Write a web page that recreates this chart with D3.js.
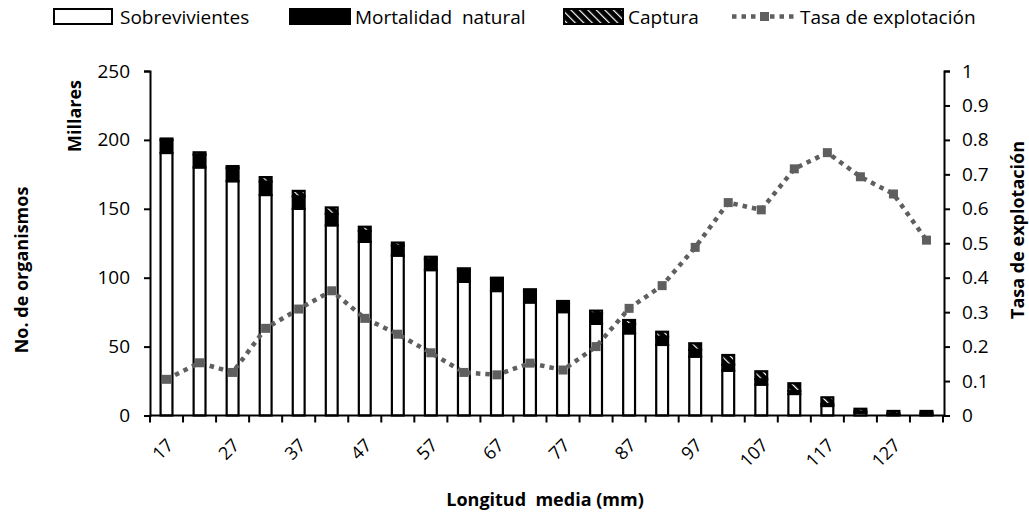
<!DOCTYPE html>
<html><head><meta charset="utf-8">
<script src="https://cdn.jsdelivr.net/npm/d3@7"></script>
<style>
body{margin:0;background:#fff;}
text{font-family:"Open Sans",sans-serif;fill:#000;}
</style></head>
<body><svg id="c" width="1029" height="517"></svg>
<script>
const categories = [17,22,27,32,37,42,47,52,57,62,67,72,77,82,87,92,97,102,107,112,117,122,127,132];
const tickLabels = ["17","27","37","47","57","67","77","87","97","107","117","127"];
const sobrevivientes = [190.5,180,170,160,150,138,126,116,105.5,97,90.3,82,75,66.5,59.6,51.2,42.7,32.5,22.4,15.6,6.9,2.0,0.5,0.3];
const mortalidad = [9.4,9.3,9.6,9.7,9.0,8.3,7.9,7.3,7.9,8.6,8.6,8.1,7.0,7.7,6.7,6.0,5.0,4.4,3.9,2.2,1.5,0.9,1.0,1.5];
const captura = [1.1,1.7,1.4,3.3,4.0,4.7,3.1,2.2,1.8,1.2,1.1,1.5,1.1,1.9,3.0,3.6,4.7,7.0,5.8,5.6,4.8,2.0,1.8,1.5];
const tasa = [0.105,0.153,0.125,0.253,0.309,0.362,0.282,0.236,0.182,0.125,0.118,0.152,0.132,0.200,0.311,0.377,0.488,0.618,0.597,0.716,0.763,0.693,0.643,0.509];
const leftTicks = [0,50,100,150,200,250];
const rightTicks = [0,0.1,0.2,0.3,0.4,0.5,0.6,0.7,0.8,0.9,1];

const svg = d3.select("#c");
const X0 = 150, X1 = 943, Y0 = 415.5, Y1 = 71;
const lineColor = "#5f5f5f";

const defs = svg.append("defs");
const pat = defs.append("pattern").attr("id","hatch").attr("patternUnits","userSpaceOnUse")
  .attr("width",6).attr("height",6).attr("patternTransform","rotate(-45)");
pat.append("rect").attr("width",6).attr("height",6).attr("fill","#000");
pat.append("rect").attr("x",0).attr("y",0).attr("width",1.2).attr("height",6).attr("fill","#fff");

const x = d3.scaleBand().domain(categories).range([X0, X1]).paddingInner(0.58).paddingOuter(0.29);
const xb = d3.scaleBand().domain(categories).range([X0, X1]);
const y = d3.scaleLinear().domain([0,250]).range([Y0, Y1]);
const y2 = d3.scaleLinear().domain([0,1]).range([Y0, Y1]);

const rows = categories.map((c,i)=>({cat:c, sobrev:sobrevivientes[i], mort:mortalidad[i], cap:captura[i]}));
const stack = d3.stack().keys(["sobrev","mort","cap"])(rows);
const fills = {sobrev:"#fff", mort:"#000", cap:"url(#hatch)"};

stack.forEach(layer=>{
  svg.append("g").selectAll("rect").data(layer).join("rect")
    .attr("x", d=>x(d.data.cat)+1)
    .attr("width", x.bandwidth()-2)
    .attr("y", d=>y(d[1]))
    .attr("height", d=>Math.max(0, y(d[0])-y(d[1])))
    .attr("fill", fills[layer.key])
    .attr("stroke","#000").attr("stroke-width",2.2);
});

// axes
const gl = svg.append("g").attr("transform",`translate(${X0},0)`)
  .call(d3.axisLeft(y).tickValues(leftTicks).tickSize(6).tickPadding(14).tickFormat(d3.format("d")));
const gr = svg.append("g").attr("transform",`translate(${X1+1},0)`)
  .call(d3.axisRight(y2).tickValues(rightTicks).tickSize(6).tickPadding(12).tickFormat(d=>d===0?"0":d===1?"1":d3.format(".1f")(d)));
// bottom axis: line + ticks at category boundaries
const bottom = svg.append("g");
bottom.append("line").attr("x1",X0).attr("x2",X1+1).attr("y1",Y0).attr("y2",Y0).attr("stroke","#000").attr("stroke-width",2);
const bounds = categories.map(c=>xb(c)).concat([X1]);
bottom.selectAll("line.t").data(bounds).join("line").attr("class","t")
  .attr("x1",d=>d).attr("x2",d=>d).attr("y1",Y0).attr("y2",Y0+7).attr("stroke","#000").attr("stroke-width",2);
bottom.selectAll("text").data(tickLabels).join("text")
  .attr("transform",d=>`translate(${xb(+d)+xb.bandwidth()/2+8},${Y0+31}) rotate(-45)`)
  .attr("text-anchor","end").attr("font-size",18).text(d=>d);

[gl,gr].forEach(g=>{
  g.select(".domain").attr("stroke","#000").attr("stroke-width",2);
  g.selectAll(".tick line").attr("stroke","#000").attr("stroke-width",2);
  g.selectAll(".tick text").attr("font-size",19).attr("font-family","'Open Sans',sans-serif").attr("fill","#000");
});

// line
const line = d3.line().x((d,i)=>xb(categories[i])+xb.bandwidth()/2).y(d=>y2(d));
svg.append("path").datum(tasa).attr("d",line).attr("fill","none")
  .attr("stroke",lineColor).attr("stroke-width",4.5).attr("stroke-dasharray","4.5,5");
svg.append("g").selectAll("rect").data(tasa).join("rect")
  .attr("x",(d,i)=>xb(categories[i])+xb.bandwidth()/2-4.5).attr("y",d=>y2(d)-4.5)
  .attr("width",9).attr("height",9).attr("fill",lineColor);

// titles
svg.append("text").attr("transform","translate(28,270) rotate(-90)").attr("text-anchor","middle")
  .attr("font-size",18).attr("font-weight","bold").text("No. de organismos");
svg.append("text").attr("transform","translate(81,116) rotate(-90)").attr("text-anchor","middle")
  .attr("font-size",18).attr("font-weight","bold").text("Millares");
svg.append("text").attr("transform","translate(1024,230) rotate(-90)").attr("text-anchor","middle")
  .attr("font-size",18).attr("font-weight","bold").text("Tasa de explotación");
svg.append("text").attr("x",545).attr("y",506).attr("text-anchor","middle")
  .attr("font-size",18).attr("font-weight","bold").style("white-space","pre").text("Longitud  media (mm)");

// legend
const lg = svg.append("g");
lg.append("rect").attr("x",54).attr("y",9).attr("width",58).attr("height",15).attr("fill","#fff").attr("stroke","#000").attr("stroke-width",2);
lg.append("text").attr("x",120).attr("y",24).attr("font-size",19).text("Sobrevivientes");
lg.append("rect").attr("x",290).attr("y",9).attr("width",60).attr("height",15).attr("fill","#000").attr("stroke","#000").attr("stroke-width",2);
lg.append("text").attr("x",355).attr("y",24).attr("font-size",19).style("white-space","pre").text("Mortalidad  natural");
lg.append("rect").attr("x",564).attr("y",9).attr("width",59).attr("height",15).attr("fill","url(#hatch)").attr("stroke","#000").attr("stroke-width",2);
lg.append("text").attr("x",628).attr("y",24).attr("font-size",19).text("Captura");
lg.append("line").attr("x1",732).attr("x2",797).attr("y1",16.5).attr("y2",16.5).attr("stroke",lineColor).attr("stroke-width",4.5).attr("stroke-dasharray","4.5,5");
lg.append("rect").attr("x",760).attr("y",12).attr("width",9).attr("height",9).attr("fill",lineColor);
lg.append("text").attr("x",800).attr("y",24).attr("font-size",19).text("Tasa de explotación");
</script></body></html>
